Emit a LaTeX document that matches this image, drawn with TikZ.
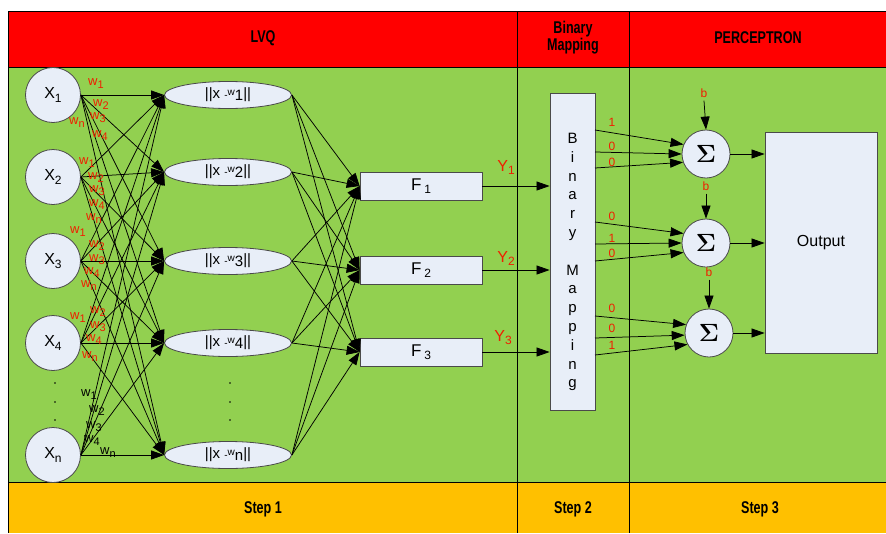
\documentclass[tikz,border=0pt]{standalone}
\usepackage{fontspec}
\setmainfont{Liberation Sans}
\usetikzlibrary{arrows.meta,shapes.geometric}
\definecolor{hdr}{HTML}{FF0000}
\definecolor{grn}{HTML}{92D050}
\definecolor{ftr}{HTML}{FFC000}
\definecolor{nfill}{HTML}{E8EEF8}
\definecolor{nline}{HTML}{4A4A4A}
\definecolor{wred}{HTML}{F01E00}
\newcommand\wl[1]{w\raisebox{-3pt}{\fontsize{11}{11}\selectfont #1}}
\newcommand\enorm[1]{||x {\fontsize{10}{10}\selectfont -\raisebox{3.5pt}{w}}\raisebox{-1.5pt}{#1}||}
\newcommand\fsub[1]{F\,\raisebox{-3pt}{\fontsize{12}{12}\selectfont #1}}
\newcommand\xsub[1]{X\raisebox{-3.5pt}{\fontsize{12}{12}\selectfont #1}}
\newcommand\narrow[1]{\scalebox{0.74}[1]{#1}}
\begin{document}
\begin{tikzpicture}[x=1pt,y=-1pt,
  arr/.style={-{Triangle[length=13pt,width=9pt]}, line width=0.75pt},
  inode/.style={circle, draw=nline, fill=nfill, line width=0.8pt, minimum size=55pt, inner sep=0pt, font=\fontsize{16}{16}\selectfont},
  enode/.style={ellipse, draw=nline, fill=nfill, line width=0.8pt, minimum width=127pt, minimum height=27pt, inner sep=0pt, font=\fontsize{15}{15}\selectfont},
  fnode/.style={rectangle, draw=nline, fill=nfill, line width=0.8pt, minimum width=122pt, minimum height=28pt, inner sep=0pt, font=\fontsize{17}{17}\selectfont},
  snode/.style={circle, draw=nline, fill=nfill, line width=0.8pt, minimum size=48pt, inner sep=0pt, font=\fontsize{25}{25}\selectfont\boldmath},
  wlab/.style={text=wred, inner sep=0pt, font=\fontsize{13}{13}\selectfont},
  wlabk/.style={text=black, inner sep=0pt, font=\fontsize{13}{13}\selectfont},
  ylab/.style={text=wred, inner sep=0pt, font=\fontsize{16}{16}\selectfont},
  blab/.style={text=wred, inner sep=0pt, font=\fontsize{12}{12}\selectfont},
  hlab/.style={inner sep=0pt, font=\fontsize{17}{19}\selectfont\bfseries, align=center},
  sep/.style={line width=0.8pt, draw=black}
]
\useasboundingbox (0,0) rectangle (886,533);
% bands
\fill[white] (0,0) rectangle (886,533);
\fill[hdr] (8,11) rectangle (886,67);
\fill[grn] (8,67) rectangle (886,482);
\fill[ftr] (8,482) rectangle (886,533);
\draw[sep] (886,11) -- (8,11) -- (8,533);
\draw[sep] (8,67) -- (886,67);
\draw[sep] (8,482) -- (886,482);
\draw[sep] (517,11) -- (517,533);
\draw[sep] (629,11) -- (629,533);
% header / footer texts
\node[hlab] (hlvq) at (263,38) {\narrow{LVQ}};
\node[hlab] (hbin) at (573,38) {\narrow{Binary}\\[-2pt]\narrow{Mapping}};
\node[hlab] (hper) at (758,38) {\narrow{PERCEPTRON}};
\node[hlab] (st1) at (263,509) {\narrow{Step 1}};
\node[hlab] (st2) at (573,509) {\narrow{Step 2}};
\node[hlab] (st3) at (760,509) {\narrow{Step 3}};
% input nodes
\node[inode] (x1) at (53,95) {\xsub{1}};
\node[inode] (x2) at (53,177) {\xsub{2}};
\node[inode] (x3) at (53,261) {\xsub{3}};
\node[inode] (x4) at (53,343) {\xsub{4}};
\node[inode] (x5) at (53,455) {\xsub{n}};
% distance nodes
\node[enode] (e1) at (228,95) {\enorm{1}};
\node[enode] (e2) at (228,172) {\enorm{2}};
\node[enode] (e3) at (228,261) {\enorm{3}};
\node[enode] (e4) at (228,343) {\enorm{4}};
\node[enode] (e5) at (228,455) {\enorm{n}};
% F nodes
\node[fnode] (f1) at (421,186) {\fsub{1}};
\node[fnode] (f2) at (421,270) {\fsub{2}};
\node[fnode] (f3) at (421,352) {\fsub{3}};
% binary mapping
\node[rectangle, draw=nline, fill=nfill, line width=0.8pt, minimum width=45pt, minimum height=317pt, inner sep=0pt] (bm) at (572.5,251.5) {};
\node[inner sep=0pt, align=center, font=\fontsize{15}{18.8}\selectfont] (bmt) at (572.5,262)
  {B\\i\\n\\a\\r\\y\\[18.8pt]M\\a\\p\\p\\i\\n\\g};
% sigma nodes
\node[snode] (s1) at (706,154) {$\Sigma$};
\node[snode] (s2) at (706,243) {$\Sigma$};
\node[snode] (s3) at (709,333) {$\Sigma$};
% output
\node[rectangle, draw=nline, fill=nfill, line width=0.8pt, minimum width=112pt, minimum height=221pt, inner sep=0pt, font=\fontsize{16}{16}\selectfont] (out) at (821,242.5) {Output};
% X -> E
\foreach \i in {1,...,5} \foreach \j in {1,...,5} \draw[arr] (x\i.east) -- (e\j.west);
% E -> F
\foreach \i in {1,...,5} \foreach \j in {1,2,3} \draw[arr] (e\i.east) -- (f\j.west);
% F -> BM
\foreach \j in {1,2,3} \draw[arr] (f\j.east) -- (f\j.east -| bm.west);
\node[ylab] (y1) at (506,167) {Y\raisebox{-3pt}{\fontsize{12}{12}\selectfont 1}};
\node[ylab] (y2) at (506,258) {Y\raisebox{-3pt}{\fontsize{12}{12}\selectfont 2}};
\node[ylab] (y3) at (503,338) {Y\raisebox{-3pt}{\fontsize{12}{12}\selectfont 3}};
% BM -> sigma
\coordinate (o11) at (595,130); \coordinate (o12) at (595,152); \coordinate (o13) at (595,168);
\coordinate (o21) at (595,222); \coordinate (o22) at (595,244); \coordinate (o23) at (595,261);
\coordinate (o31) at (595,316); \coordinate (o32) at (595,338); \coordinate (o33) at (595,355);
\draw[arr] (o11) -- (s1.157); \draw[arr] (o12) -- (s1.180); \draw[arr] (o13) -- (s1.200);
\draw[arr] (o21) -- (s2.157); \draw[arr] (o22) -- (s2.180); \draw[arr] (o23) -- (s2.203);
\draw[arr] (o31) -- (s3.160); \draw[arr] (o32) -- (s3.185); \draw[arr] (o33) -- (s3.208);
\node[blab] (l11) at (612,122) {1}; \node[blab] (l12) at (612,146) {0}; \node[blab] (l13) at (612,162) {0};
\node[blab] (l21) at (612,216) {0}; \node[blab] (l22) at (612,238) {1}; \node[blab] (l23) at (612,253) {0};
\node[blab] (l31) at (612,308) {0}; \node[blab] (l32) at (612,328) {0}; \node[blab] (l33) at (612,345) {1};
% biases
\node[blab] (b1) at (704,93) {b};
\node[blab] (b2) at (706,186) {b};
\node[blab] (b3) at (709,272) {b};
\draw[arr] (b1.south) ++(0,3) -- (s1.north);
\draw[arr] (b2.south) ++(0,3) -- (s2.north);
\draw[arr] (b3.south) ++(0,3) -- (s3.north);
% sigma -> output
\foreach \j in {1,2,3} \draw[arr] (s\j.east) -- (s\j.east -| out.west);
% dots
\foreach \yy in {383,402,420} { \fill (55,\yy) circle (0.9); \fill (230,\yy) circle (0.9); }
% weight labels
\node[wlab] (a11) at (96,84) {\wl{1}};
\node[wlab] (a12) at (101,105) {\wl{2}};
\node[wlab] (a13) at (98,118) {\wl{3}};
\node[wlab] (a15) at (77,123) {\wl{n}};
\node[wlab] (a14) at (100,136) {\wl{4}};
\node[wlab] (a21) at (87,163) {\wl{1}};
\node[wlab] (a22) at (96,178) {\wl{2}};
\node[wlab] (a23) at (97,191) {\wl{3}};
\node[wlab] (a24) at (97,205) {\wl{4}};
\node[wlab] (a25) at (94,219) {\wl{n}};
\node[wlab] (a31) at (78,232) {\wl{1}};
\node[wlab] (a32) at (97,246) {\wl{2}};
\node[wlab] (a33) at (97,260) {\wl{3}};
\node[wlab] (a34) at (92,273) {\wl{4}};
\node[wlab] (a35) at (89,286) {\wl{n}};
\node[wlab] (a41) at (78,318) {\wl{1}};
\node[wlab] (a42) at (98,312) {\wl{2}};
\node[wlab] (a43) at (98,327) {\wl{3}};
\node[wlab] (a44) at (94,340) {\wl{4}};
\node[wlab] (a45) at (90,357) {\wl{n}};
\node[wlabk] (a51) at (89,395) {\wl{1}};
\node[wlabk] (a52) at (97,411) {\wl{2}};
\node[wlabk] (a53) at (94,427) {\wl{3}};
\node[wlabk] (a54) at (92,441) {\wl{4}};
\node[wlabk] (a55) at (108,453) {\wl{n}};
\end{tikzpicture}
\end{document}
